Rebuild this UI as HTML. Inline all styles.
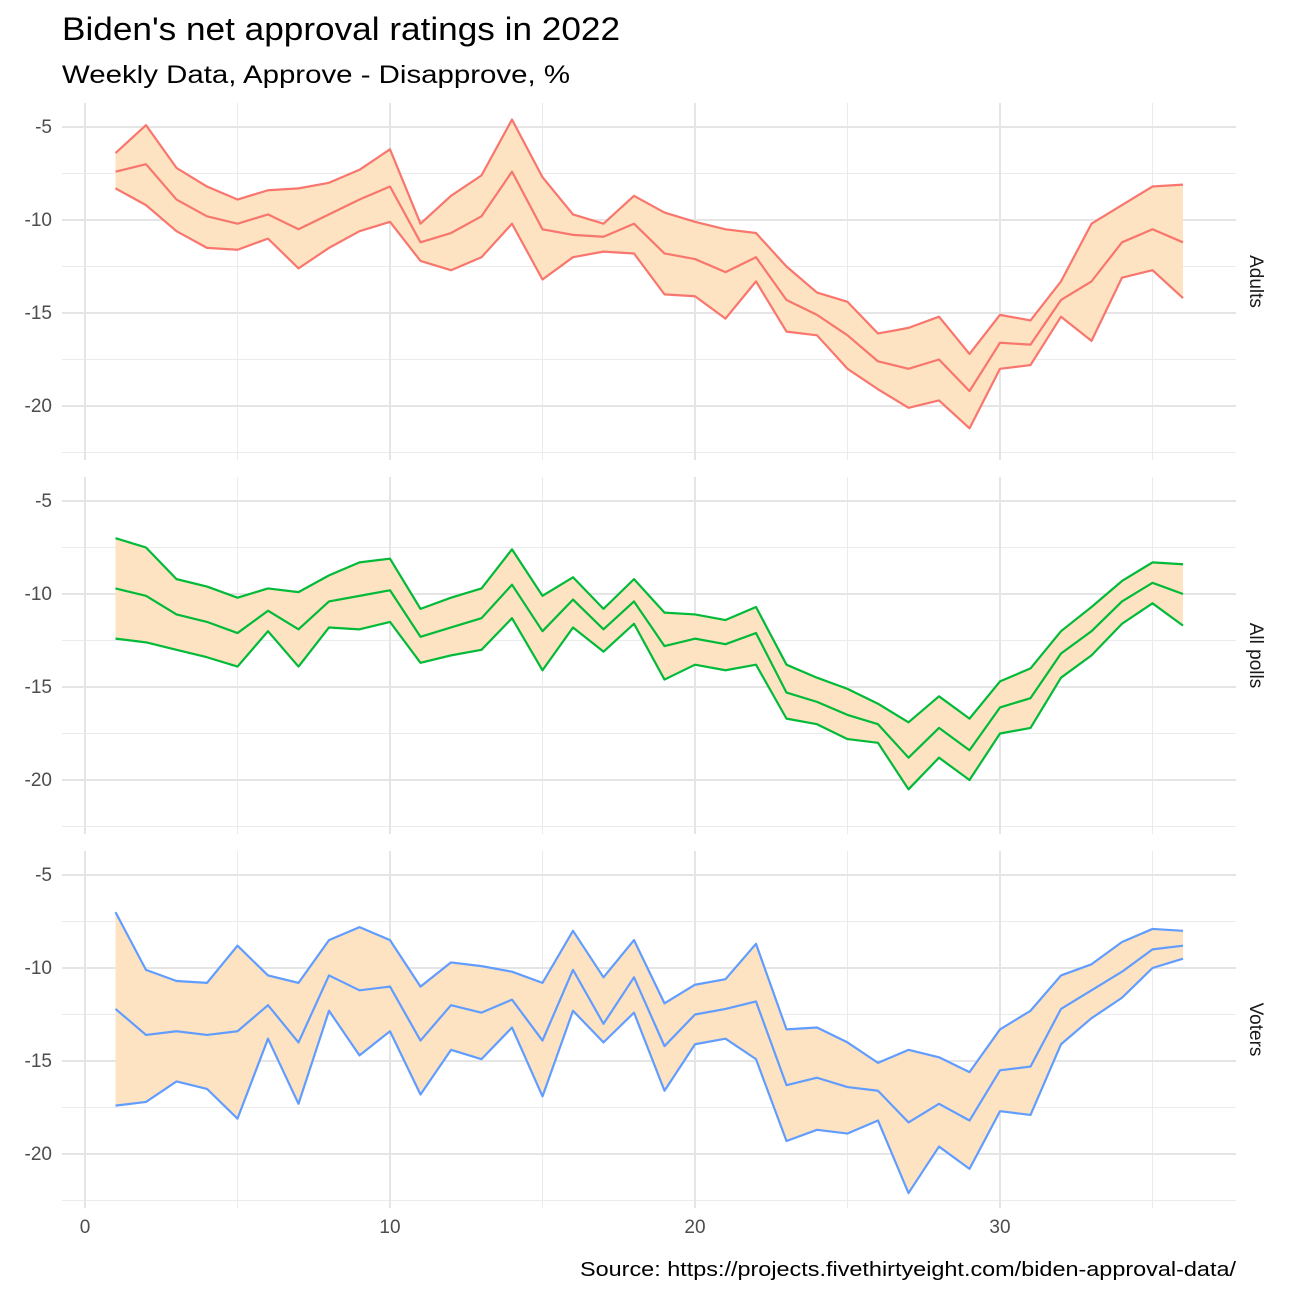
<!DOCTYPE html>
<html><head><meta charset="utf-8"><style>
body{margin:0;background:#fff;font-family:"Liberation Sans",sans-serif}
</style></head><body>
<svg id="chart" width="1296" height="1296" xmlns="http://www.w3.org/2000/svg">
<rect width="1296" height="1296" fill="#fff"/>
<text x="62" y="40" font-size="32" textLength="558" lengthAdjust="spacingAndGlyphs" fill="#000">Biden's net approval ratings in 2022</text>
<text x="62" y="83" font-size="25" textLength="508" lengthAdjust="spacingAndGlyphs" fill="#000">Weekly Data, Approve - Disapprove, %</text>
<text x="1236" y="1276" font-size="20" text-anchor="end" textLength="656" lengthAdjust="spacingAndGlyphs" fill="#000">Source: https://projects.fivethirtyeight.com/biden-approval-data/</text>
</svg>
<script>
const weeks = [1,2,3,4,5,6,7,8,9,10,11,12,13,14,15,16,17,18,19,20,21,22,23,24,25,26,27,28,29,30,31,32,33,34,35,36];
const panelNames = ["Adults","All polls","Voters"];
const adultsUpper = [-6.4,-4.9,-7.2,-8.2,-8.9,-8.4,-8.3,-8.0,-7.3,-6.2,-10.2,-8.7,-7.6,-4.6,-7.7,-9.7,-10.2,-8.7,-9.6,-10.1,-10.5,-10.7,-12.5,-13.9,-14.4,-16.1,-15.8,-15.2,-17.2,-15.1,-15.4,-13.3,-10.2,-9.2,-8.2,-8.1];
const adultsMid = [-7.4,-7.0,-8.9,-9.8,-10.2,-9.7,-10.5,-9.7,-8.9,-8.2,-11.2,-10.7,-9.8,-7.4,-10.5,-10.8,-10.9,-10.2,-11.8,-12.1,-12.8,-12.0,-14.3,-15.1,-16.2,-17.6,-18.0,-17.5,-19.2,-16.6,-16.7,-14.3,-13.3,-11.2,-10.5,-11.2];
const adultsLower = [-8.3,-9.2,-10.6,-11.5,-11.6,-11.0,-12.6,-11.5,-10.6,-10.1,-12.2,-12.7,-12.0,-10.2,-13.2,-12.0,-11.7,-11.8,-14.0,-14.1,-15.3,-13.3,-16.0,-16.2,-18.0,-19.1,-20.1,-19.7,-21.2,-18.0,-17.8,-15.2,-16.5,-13.1,-12.7,-14.2];
const allUpper = [-7.0,-7.5,-9.2,-9.6,-10.2,-9.7,-9.9,-9.0,-8.3,-8.1,-10.8,-10.2,-9.7,-7.6,-10.1,-9.1,-10.8,-9.2,-11.0,-11.1,-11.4,-10.7,-13.8,-14.5,-15.1,-15.9,-16.9,-15.5,-16.7,-14.7,-14.0,-12.0,-10.7,-9.3,-8.3,-8.4];
const allMid = [-9.7,-10.1,-11.1,-11.5,-12.1,-10.9,-11.9,-10.4,-10.1,-9.8,-12.3,-11.8,-11.3,-9.5,-12.0,-10.3,-11.9,-10.4,-12.8,-12.4,-12.7,-12.1,-15.3,-15.8,-16.5,-17.0,-18.8,-17.2,-18.4,-16.1,-15.6,-13.2,-12.0,-10.4,-9.4,-10.0];
const allLower = [-12.4,-12.6,-13.0,-13.4,-13.9,-12.0,-13.9,-11.8,-11.9,-11.5,-13.7,-13.3,-13.0,-11.3,-14.1,-11.8,-13.1,-11.6,-14.6,-13.8,-14.1,-13.8,-16.7,-17.0,-17.8,-18.0,-20.5,-18.8,-20.0,-17.5,-17.2,-14.5,-13.3,-11.6,-10.5,-11.7];
const votersUpper = [-7.0,-10.1,-10.7,-10.8,-8.8,-10.4,-10.8,-8.5,-7.8,-8.5,-11.0,-9.7,-9.9,-10.2,-10.8,-8.0,-10.5,-8.5,-11.9,-10.9,-10.6,-8.7,-13.3,-13.2,-14.0,-15.1,-14.4,-14.8,-15.6,-13.3,-12.3,-10.4,-9.8,-8.6,-7.9,-8.0];
const votersMid = [-12.2,-13.6,-13.4,-13.6,-13.4,-12.0,-14.0,-10.4,-11.2,-11.0,-13.9,-12.0,-12.4,-11.7,-13.9,-10.1,-13.0,-10.5,-14.2,-12.5,-12.2,-11.8,-16.3,-15.9,-16.4,-16.6,-18.3,-17.3,-18.2,-15.5,-15.3,-12.2,-11.2,-10.2,-9.0,-8.8];
const votersLower = [-17.4,-17.2,-16.1,-16.5,-18.1,-13.8,-17.3,-12.3,-14.7,-13.4,-16.8,-14.4,-14.9,-13.2,-16.9,-12.3,-14.0,-12.4,-16.6,-14.1,-13.8,-14.9,-19.3,-18.7,-18.9,-18.2,-22.1,-19.6,-20.8,-17.7,-17.9,-14.1,-12.7,-11.6,-10.0,-9.5];
const xTicks = [0,10,20,30];
const xMinor = [5,15,25,35];
const yTicks = [-5,-10,-15,-20];
const yMinor = [-7.5,-12.5,-17.5,-22.5];

const NS="http://www.w3.org/2000/svg";
const svg=document.getElementById('chart');
const PL=62, PR=1236, PH=357;
const tops=[103,477,851];
const colors=["#F8766D","#00BA38","#619CFF"];
const series=[[adultsUpper,adultsMid,adultsLower],[allUpper,allMid,allLower],[votersUpper,votersMid,votersLower]];
const xs=v=>85+30.5*v;
function mk(tag,attrs,parent){const e=document.createElementNS(NS,tag);for(const k in attrs)e.setAttribute(k,attrs[k]);(parent||svg).appendChild(e);return e;}
series.forEach((s,p)=>{
  const top=tops[p];
  const ys=v=>top+24+(-5-v)*18.6;
  const g=mk('g',{});
  
  
  yMinor.forEach(v=>{const y=ys(v);if(y<top+PH)mk('line',{x1:PL,x2:PR,y1:y,y2:y,stroke:'#ebebeb','stroke-width':1},g);});
  xMinor.forEach(v=>mk('line',{x1:xs(v),x2:xs(v),y1:top,y2:top+PH,stroke:'#ebebeb','stroke-width':1},g));
  yTicks.forEach(v=>{const y=ys(v);mk('line',{x1:PL,x2:PR,y1:y,y2:y,stroke:'#e5e5e5','stroke-width':2},g);
    const t=mk('text',{x:52,y:y+6,'text-anchor':'end','font-size':19,fill:'#4d4d4d'},g);t.textContent=v;
    
    });
  xTicks.forEach(v=>mk('line',{x1:xs(v),x2:xs(v),y1:top,y2:top+PH,stroke:'#e5e5e5','stroke-width':2},g));
  const [u,m,l]=s;
  let d=weeks.map((w,i)=>(i?'L':'M')+xs(w)+','+ys(u[i])).join('');
  for(let i=weeks.length-1;i>=0;i--)d+='L'+xs(weeks[i])+','+ys(l[i]);
  const band=mk('path',{d:d+'Z',fill:'#fde3c1'},g);
  
  
  [u,m,l].forEach((arr,k)=>{
    const ln=mk('path',{d:weeks.map((w,i)=>(i?'L':'M')+xs(w)+','+ys(arr[i])).join(''),fill:'none',stroke:colors[p],'stroke-width':2.2,'stroke-linejoin':'round'},g);
    
    
  });
  const cy=top+PH/2;
  const st=mk('text',{x:1250,y:cy,'font-size':19,fill:'#1a1a1a','text-anchor':'middle',transform:'rotate(90 1250 '+cy+')'},g);
  st.textContent=panelNames[p];
  
  
});
xTicks.forEach(v=>{const t=mk('text',{x:xs(v),y:1233,'text-anchor':'middle','font-size':19,fill:'#4d4d4d'});t.textContent=v;
  
  });
</script>
</body></html>
